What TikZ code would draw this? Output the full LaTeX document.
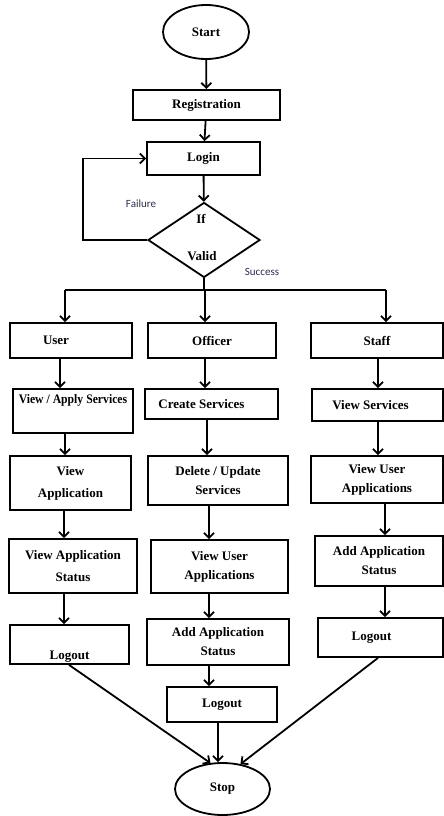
\documentclass[tikz,border=0pt]{standalone}
\usepackage{fontspec}
\usepackage{graphicx}
\setmainfont{Liberation Serif}
\newfontfamily\lblfont{Carlito}
\usetikzlibrary{shapes.geometric,arrows.meta}
\definecolor{lblc}{RGB}{45,45,80}
\begin{document}
\begin{tikzpicture}[x=1pt,y=-1pt,
  box/.style={draw, line width=1.8pt, inner sep=1pt, align=center, font=\fontsize{13}{19}\selectfont\bfseries},
  term/.style={draw, ellipse, line width=1.8pt, inner sep=0pt, font=\fontsize{13}{19}\selectfont\bfseries},
  txt/.style={inner sep=0pt, font=\fontsize{13}{19}\selectfont\bfseries},
  arr/.style={line width=1.8pt, -{Straight Barb[length=5pt,width=10pt,line width=1.8pt]}},
  ln/.style={line width=1.8pt},
  lbl/.style={inner sep=0pt, font=\lblfont\fontsize{11}{13}\selectfont, text=lblc}]
\useasboundingbox (0,0) rectangle (444,816);
\fill[white] (0,0) rectangle (444,816);

% top part
\node[term, minimum width=86pt, minimum height=54pt] (start) at (206,32) {Start};
\node[box, minimum width=147pt, minimum height=30pt] (reg) at (206.5,105) {Registration};
\node[box, minimum width=113pt, minimum height=33pt] (login) at (203.5,158.5) {Login};
\node[draw, diamond, line width=1.8pt, inner sep=0pt, minimum width=112pt, minimum height=75pt] (dia) at (204,240) {};
\node[txt] (iftxt) at (201,219) {If};
\node[txt] (validtxt) at (202,256) {Valid};
\node[lbl] (fail) at (141,204) {Failure};
\node[lbl] (succ) at (262,272) {Success};

\draw[arr] (start) -- (reg);
\draw[arr] (reg) -- (login);
\draw[arr] (login) -- (dia);
\coordinate (fl) at (83,240);
\draw[arr] (dia.west) -- (fl) |- (login.west);

\coordinate (sp) at (204,290);
\coordinate (sl) at (65,290);
\coordinate (sr) at (386,290);
\draw[ln] (dia.south) -- (sp);
\draw[ln] (sl) -- (sr);

% row 1
\node[box, minimum width=122pt, minimum height=35pt] (user) at (71,340.5) {User\hspace{30pt}};
\node[box, minimum width=128pt, minimum height=35pt] (officer) at (212,340.5) {Officer};
\node[box, minimum width=132pt, minimum height=35pt] (staff) at (377,340.5) {Staff};
\draw[arr] (sl) -- (sl |- user.north);
\draw[arr] ([xshift=1pt]sp) -- ([xshift=1pt]sp |- officer.north);
\draw[arr] (sr) -- (sr |- staff.north);

% row 2
\node[box, minimum width=120pt, minimum height=44pt] (uvas) at (73,411) {\scalebox{0.9}[1]{View / Apply Services}\\\strut};
\node[box, minimum width=133pt, minimum height=30pt] (ocs) at (211.5,404) {Create Services\hspace{20pt}};
\node[box, minimum width=131pt, minimum height=32pt] (svs) at (377.5,405) {View Services\hspace{14pt}};

% row 3
\node[box, minimum width=121pt, minimum height=54pt] (uva) at (70.5,483) {View\hspace{14pt}\\[3pt]Application\hspace{14pt}};
\node[box, minimum width=140pt, minimum height=49pt] (odu) at (218,480.5) {Delete / Update\\Services};
\node[box, minimum width=132pt, minimum height=47pt] (svua) at (377,479.5) {View User\\Applications};

% row 4
\node[box, minimum width=128pt, minimum height=54pt] (uvast) at (73,566) {View Application\\[3pt]Status};
\node[box, minimum width=137pt, minimum height=53pt] (ovua) at (219.5,566.5) {View User\\Applications};
\node[box, minimum width=128pt, minimum height=50pt] (saas) at (379,561) {Add Application\\Status};

% row 5
\node[box, minimum width=119pt, minimum height=39pt] (ulo) at (69.5,644.5) {\strut\\Logout\hspace{14pt}};
\node[box, minimum width=142pt, minimum height=46pt] (oaas) at (218,642) {Add Application\\Status};
\node[box, minimum width=125pt, minimum height=39pt] (slo) at (380.5,637.5) {Logout\hspace{18pt}};

% row 6
\node[box, minimum width=110pt, minimum height=35pt] (olo) at (222,704.5) {Logout};
\node[term, minimum width=95pt, minimum height=52pt] (stop) at (222.5,789) {Stop};

% column arrows
\draw[arr] ([xshift=-11pt]user.south) -- ([xshift=-11pt]user.south |- uvas.north);
\draw[arr] ([xshift=-8pt]uvas.south) -- ([xshift=-8pt]uvas.south |- uva.north);
\draw[arr] ([xshift=-6.5pt]uva.south) -- ([xshift=-6.5pt]uva.south |- uvast.north);
\draw[arr] ([xshift=-9pt]uvast.south) -- ([xshift=-9pt]uvast.south |- ulo.north);

\draw[arr] ([xshift=-7pt]officer.south) -- ([xshift=-7pt]officer.south |- ocs.north);
\draw[arr] ([xshift=-4.5pt]ocs.south) -- ([xshift=-4.5pt]ocs.south |- odu.north);
\draw[arr] ([xshift=-9pt]odu.south) -- ([xshift=-9pt]odu.south |- ovua.north);
\draw[arr] ([xshift=-10.5pt]ovua.south) -- ([xshift=-10.5pt]ovua.south |- oaas.north);
\draw[arr] ([xshift=-9pt]oaas.south) -- ([xshift=-9pt]oaas.south |- olo.north);

\draw[arr] ([xshift=1pt]staff.south) -- ([xshift=1pt]staff.south |- svs.north);
\draw[arr] ([xshift=0.5pt]svs.south) -- ([xshift=0.5pt]svs.south |- svua.north);
\draw[arr] ([xshift=8pt]svua.south) -- ([xshift=8pt]svua.south |- saas.north);
\draw[arr] ([xshift=6pt]saas.south) -- ([xshift=6pt]saas.south |- slo.north);

% to stop
\draw[arr] ([xshift=-0.5pt]ulo.south) -- ([xshift=-12pt,yshift=-1pt]stop.north);
\draw[arr] ([xshift=-4pt]olo.south) -- ([xshift=-4.5pt]stop.north);
\draw[arr] ([xshift=-2.5pt]slo.south) -- ([xshift=18pt,yshift=-2pt]stop.north);
\end{tikzpicture}
\end{document}
